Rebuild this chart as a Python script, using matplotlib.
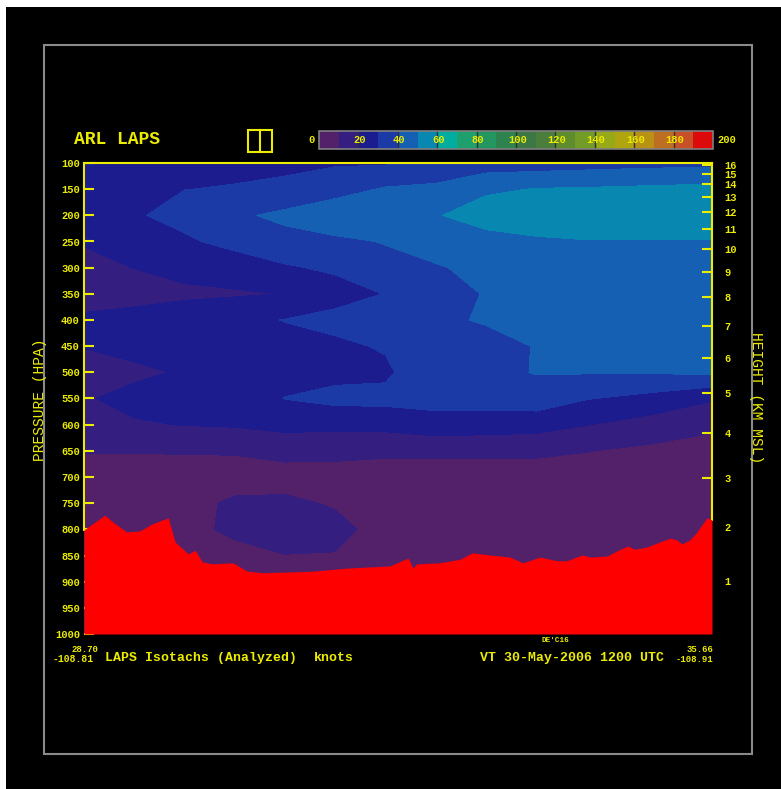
import numpy as np
import matplotlib
matplotlib.use("Agg")
from matplotlib import pyplot as plt
from matplotlib.patches import Rectangle
from matplotlib.lines import Line2D

W, H = 781, 789
YEL = "#ecec00"
plt.rcParams["font.family"] = ["Liberation Mono", "DejaVu Sans Mono"]
plt.rcParams["font.weight"] = "bold"

# pressure levels (hPa) of the analysis grid
levels_hpa = [100, 150, 200, 250, 300, 350, 400, 450, 500, 550,
              600, 650, 700, 750, 800, 850, 900, 950, 1000]
# position along the cross section (0 = left end, 100 = right end)
dist = [0, 8, 16, 24, 32, 40, 48, 56, 64, 72, 80, 90, 100]

# wind speed (knots) per column, top (100 hPa) to bottom (1000 hPa)
spd_x000 = [25, 25, 24, 21, 16, 15, 22, 20.5, 15, 19, 16, 10.5, 6, 5, 5, 5, 5, 5, 5]
spd_x008 = [26, 28, 29, 24, 20.2, 15, 25, 23, 18, 23, 19, 10.3, 7, 6, 6, 6, 6, 6, 6]
spd_x016 = [27, 29.9, 33, 28.5, 23, 18, 26, 25, 21, 23, 20.3, 10.5, 7, 7, 7, 6, 6, 6, 6]
spd_x024 = [28, 30.5, 38, 33, 24.6, 19, 27.3, 28, 27, 26, 21, 10.8, 6, 11.5, 12, 7, 7, 7, 7]
spd_x032 = [29, 31, 42.6, 36, 29, 20.2, 30.3, 27, 27, 30.2, 23, 13, 6, 12, 14, 9.8, 7, 7, 7]
spd_x040 = [29, 36, 47, 38, 31.5, 26, 33, 28, 27, 33, 22, 14, 4, 9, 13, 9.5, 7, 7, 7]
spd_x048 = [29, 41, 47, 40.5, 37, 30.3, 34, 31, 28, 33, 23, 12, 5, 6, 6, 6, 6, 6, 6]
spd_x056 = [33, 42, 49, 45, 39, 36, 38, 36, 38.7, 33.5, 26, 12, 5, 5, 5, 5, 5, 5, 5]
spd_x064 = [35, 48, 56, 45, 43, 40.5, 41, 36, 37, 34, 25, 12, 5, 5, 5, 5, 5, 5, 5]
spd_x072 = [35, 50.5, 56, 48.5, 46, 45, 43, 40.5, 40.5, 35.5, 24, 12, 5, 5, 5, 5, 5, 5, 5]
spd_x080 = [36, 51, 57, 49.5, 46, 45, 44, 43, 40.6, 30.5, 20.3, 10.3, 5, 5, 5, 5, 5, 5, 5]
spd_x090 = [37, 52, 57, 49.5, 46, 45, 45, 44, 40.8, 27, 16, 8, 5, 5, 5, 5, 5, 5, 5]
spd_x100 = [37.5, 53, 57, 49.5, 46, 46, 45, 44, 41.5, 21, 12, 6, 5, 5, 5, 5, 5, 5, 5]

# surface pressure (hPa) along the section
terrain_x = [0, 3.3, 4.6, 6.8, 8.9, 10.8, 13.4, 14.5, 16.6, 17.7, 18.8, 20.4, 23.7,
             26.0, 28.5, 36.5, 41.9, 48.7, 51.6, 52.4, 53.0, 56.7, 59.9, 61.8, 64.6,
             67.8, 69.9, 72.6, 75.3, 76.9, 79.3, 80.6, 83.3, 85.4, 86.6, 87.7, 89.6,
             91.7, 93.3, 94.4, 95.2, 96.5, 97.6, 99.2, 100]
terrain_p = [801, 773, 786, 805, 803, 790, 778, 824, 847, 840, 862, 866, 864,
             880, 883, 880, 874, 870, 855, 874, 866, 864, 857, 845, 849,
             853, 864, 853, 860, 860, 849, 853, 851, 838, 832, 838, 834,
             824, 817, 820, 828, 820, 805, 778, 782]

speed_levels = list(range(0, 210, 10))
cbar_labels = [0, 20, 40, 60, 80, 100, 120, 140, 160, 180, 200]
p_ticks = list(range(100, 1050, 50))
height_km = list(range(1, 17))

palette = ["#52216a", "#341e80", "#1c1c8e", "#1c3aa6", "#1560b2", "#0887b0",
           "#00ad9f", "#1e9f6e", "#24965f", "#2d8250", "#3c7846", "#4b7d3c",
           "#5f8c2d", "#739b28", "#96aa19", "#afa50f", "#b99114", "#be6e23",
           "#c85028", "#dc0a0a"]


def std_pressure(z_km):
    z = np.asarray(z_km, dtype=float) * 1000.0
    p_trop = 1013.25 * (1 - 2.25577e-5 * z) ** 5.25588
    p_strat = 226.32 * np.exp(-(z - 11000.0) / 6341.6)
    return np.where(z <= 11000.0, p_trop, p_strat)


speed = np.column_stack([spd_x000, spd_x008, spd_x016, spd_x024, spd_x032, spd_x040,
                         spd_x048, spd_x056, spd_x064, spd_x072, spd_x080, spd_x090,
                         spd_x100])

fig = plt.figure(figsize=(W / 100, H / 100), dpi=100, facecolor="white")
fig.add_artist(Rectangle((6 / W, 0), 1 - 6 / W, 1 - 7 / H, transform=fig.transFigure,
                         facecolor="black", edgecolor="none", zorder=-10))
fig.add_artist(Rectangle((44 / W, 1 - 754 / H), 708 / W, 709 / H, transform=fig.transFigure,
                         fill=False, edgecolor="#8a8a8a", lw=1.5))

ax = fig.add_axes([84 / W, 1 - 634 / H, 628 / W, 471 / H])
ax.set_facecolor("black")
cf = ax.contourf(dist, levels_hpa, speed, levels=speed_levels, colors=palette)
ax.set_xlim(0, 100)
ax.set_ylim(1000, 100)
ax.set_xticks([])
ax.set_yticks(p_ticks)
ax.tick_params(axis="y", direction="in", length=7, width=1.5, color=YEL,
               labelcolor=YEL, labelsize=7.5, pad=3)
for s in ["right", "bottom"]:
    ax.spines[s].set_visible(False)
for s in ["top", "left"]:
    ax.spines[s].set_color(YEL)
    ax.spines[s].set_linewidth(1.5)
ax.spines["left"].set_bounds(terrain_p[0], 100)

ax2 = ax.twinx()
ax2.set_ylim(1000, 100)
ax2.fill_between(terrain_x, terrain_p, 1000, color="#ff0000", lw=0, zorder=5)
ax2.set_yticks(std_pressure(height_km))
ax2.set_yticklabels([str(k) for k in height_km])
ax2.tick_params(axis="y", direction="in", length=7.5, width=1.5, color=YEL,
                labelcolor=YEL, labelsize=7.5, pad=9)
for s in ["left", "top", "bottom"]:
    ax2.spines[s].set_visible(False)
ax2.spines["right"].set_color(YEL)
ax2.spines["right"].set_linewidth(1.5)
ax2.spines["right"].set_bounds(terrain_p[-1], 100)

# colour bar
cax = fig.add_axes([319 / W, 1 - 149 / H, 394 / W, 18 / H])
cb = fig.colorbar(cf, cax=cax, orientation="horizontal")
cb.set_ticks([])
cb.outline.set_edgecolor("#808080")
cb.outline.set_linewidth(1.2)
vmax = cbar_labels[-1]
for v in cbar_labels[1:-1]:
    cax.plot([v / vmax, v / vmax], [0, 1], transform=cax.transAxes, color="#303030", lw=1)
for v in cbar_labels:
    if v == cbar_labels[0]:
        xpos, ha = -0.012, "right"
    elif v == vmax:
        xpos, ha = 1.012, "left"
    else:
        xpos, ha = v / vmax + 0.003, "center"
    cax.text(xpos, 0.5, str(v), transform=cax.transAxes, ha=ha, va="center",
             color=YEL, fontsize=7.5)

# header
fig.text(117 / W, 1 - 139 / H, "ARL LAPS", ha="center", va="center",
         fontsize=13, color=YEL)
fig.add_artist(Rectangle((248 / W, 1 - 152 / H), 24 / W, 22 / H, transform=fig.transFigure,
                         fill=False, edgecolor=YEL, lw=1.5))
fig.add_artist(Line2D([260 / W, 260 / W], [1 - 152 / H, 1 - 130 / H],
                      transform=fig.transFigure, color=YEL, lw=1.5))

# axis titles
fig.text(40 / W, 1 - 400 / H, "PRESSURE (HPA)", rotation=90, ha="center", va="center",
         fontsize=10.5, color=YEL, fontweight="normal")
fig.text(756 / W, 1 - 398 / H, "HEIGHT (KM MSL)", rotation=-90, ha="center", va="center",
         fontsize=10.5, color=YEL, fontweight="normal")

# footer
fig.text(71 / W, 1 - 650 / H, "28.70", ha="left", va="center", fontsize=6.5, color=YEL)
fig.text(53 / W, 1 - 659 / H, "-108.81", ha="left", va="center", fontsize=7, color=YEL)
fig.text(105 / W, 1 - 658 / H, "LAPS Isotachs (Analyzed)", ha="left", va="center",
         fontsize=9.5, color=YEL)
fig.text(314 / W, 1 - 658 / H, "knots", ha="left", va="center", fontsize=9.5, color=YEL)
fig.text(555 / W, 1 - 641 / H, "DE'C16", ha="center", va="center", fontsize=5.5, color=YEL)
fig.text(480 / W, 1 - 658 / H, "VT 30-May-2006 1200 UTC", ha="left", va="center",
         fontsize=9.5, color=YEL)
fig.text(713 / W, 1 - 650 / H, "35.66", ha="right", va="center", fontsize=6.5, color=YEL)
fig.text(713 / W, 1 - 659 / H, "-108.91", ha="right", va="center", fontsize=6.5, color=YEL)

fig.savefig("out.png", dpi=100, facecolor="white")
